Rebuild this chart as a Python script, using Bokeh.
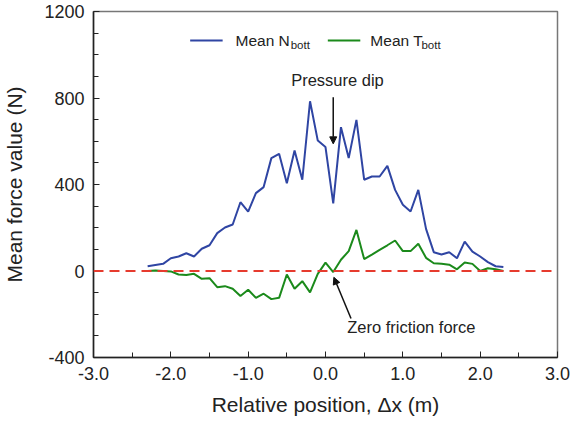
from bokeh.plotting import figure
from bokeh.models import Range1d, Span, Label, Arrow, NormalHead, FixedTicker, NumeralTickFormatter
from bokeh.embed import file_html
from bokeh.resources import INLINE

# ---- data ----
positions = [-2.3, -2.2, -2.1, -2.0, -1.9, -1.8, -1.7, -1.6, -1.5, -1.4, -1.3, -1.2,
             -1.1, -1.0, -0.9, -0.8, -0.7, -0.6, -0.5, -0.4, -0.3, -0.2, -0.1, 0.0,
             0.1, 0.2, 0.3, 0.4, 0.5, 0.6, 0.7, 0.8, 0.9, 1.0, 1.1, 1.2, 1.3, 1.4,
             1.5, 1.6, 1.7, 1.8, 1.9, 2.0, 2.1, 2.2, 2.3]
mean_n_bott = [22, 28, 33, 59, 67, 82, 67, 103, 119, 175, 201, 215,
               318, 275, 360, 388, 522, 542, 406, 557, 422, 785, 603, 573,
               313, 665, 522, 699, 422, 437, 437, 486, 375, 306, 275, 375, 195, 87,
               76, 87, 59, 136, 90, 67, 41, 22, 18]
mean_t_bott = [0, 2, 0, -2, -16, -19, -13, -36, -33, -75, -70, -82,
               -116, -87, -124, -105, -130, -124, -16, -82, -47, -99, -13, 39,
               -5, 52, 92, 190, 55, 76, 98, 119, 141, 92, 92, 126, 61, 36,
               33, 29, 8, 39, 33, 0, 13, 8, 0]
x_ticks = [-3, -2, -1, 0, 1, 2, 3]
y_ticks = [-400, 0, 400, 800, 1200]

FONT = "Liberation Sans"
BLUE = "#2f45a3"
GREEN = "#1b8a1b"
RED = "#e63b2e"

p = figure(width=576, height=422, output_backend="svg", toolbar_location=None,
           x_range=Range1d(-3, 3), y_range=Range1d(-400, 1200),
           min_border_left=93, min_border_right=19, min_border_top=11, min_border_bottom=65)
p.grid.visible = False
p.outline_line_color = "#777777"
p.outline_line_width = 1.5
p.background_fill_color = "white"

zero = Span(location=0, dimension="width", line_color=RED, line_width=2, line_dash="10 6")
p.add_layout(zero)

p.line(positions, mean_n_bott, line_color=BLUE, line_width=2)
p.line(positions, mean_t_bott, line_color=GREEN, line_width=2)

for ax in (p.xaxis[0], p.yaxis[0]):
    ax.axis_line_color = "#222222"
    ax.axis_line_width = 1.5
    ax.major_tick_line_color = "#222222"
    ax.minor_tick_line_color = "#222222"
    ax.major_tick_in = 6
    ax.major_tick_out = 0
    ax.minor_tick_in = 5
    ax.minor_tick_out = 0
    ax.major_label_text_font = FONT
    ax.major_label_text_font_size = "18px"
    ax.major_label_text_color = "#222222"
    ax.axis_label_text_font = FONT
    ax.axis_label_text_font_size = "21px"
    ax.axis_label_text_font_style = "normal"
    ax.axis_label_text_color = "#222222"
    ax.major_label_standoff = 9

p.xaxis.ticker = FixedTicker(ticks=x_ticks, minor_ticks=[-2.5, -1.5, -0.5, 0.5, 1.5, 2.5])
p.xaxis.formatter = NumeralTickFormatter(format="0.0")
p.yaxis.ticker = FixedTicker(ticks=y_ticks, minor_ticks=[v for v in range(-300, 1200, 100) if v % 400 != 0])
p.yaxis.formatter = NumeralTickFormatter(format="0")
p.xaxis.axis_label = "Relative position, \u0394x (m)"
p.yaxis.axis_label = "Mean force value (N)"
p.xaxis.axis_label_standoff = 10
p.yaxis.axis_label_standoff = 15

# legend (manual, to get subscripts)
p.segment(x0=[-1.75], y0=[1066], x1=[-1.33], y1=[1066], line_color=BLUE, line_width=2)
p.segment(x0=[0.03], y0=[1066], x1=[0.45], y1=[1066], line_color=GREEN, line_width=2)
for (tx, ty, t, fs) in [(-1.164, 1066, "Mean N", "15.5px"), (-0.45, 1046, "bott", "11.5px"),
                        (0.58, 1066, "Mean T", "15.5px"), (1.24, 1046, "bott", "11.5px")]:
    p.add_layout(Label(x=tx, y=ty, text=t, text_font=FONT, text_font_size=fs,
                       text_color="#222222", text_baseline="middle", text_align="left"))

# annotations
p.add_layout(Label(x=0.155, y=883, text="Pressure dip", text_font=FONT, text_font_size="16.5px",
                   text_color="#222222", text_baseline="middle", text_align="center"))
p.add_layout(Arrow(end=NormalHead(size=7, fill_color="#111111", line_color="#111111"),
                   x_start=0.10, y_start=804, x_end=0.10, y_end=588,
                   line_color="#111111", line_width=1.5))
p.add_layout(Label(x=1.11, y=-261, text="Zero friction force", text_font=FONT, text_font_size="16.5px",
                   text_color="#222222", text_baseline="middle", text_align="center"))
p.add_layout(Arrow(end=NormalHead(size=7, fill_color="#111111", line_color="#111111"),
                   x_start=0.33, y_start=-220, x_end=0.108, y_end=-29,
                   line_color="#111111", line_width=1.5))

open("out.html", "w").write(file_html(p, INLINE))
